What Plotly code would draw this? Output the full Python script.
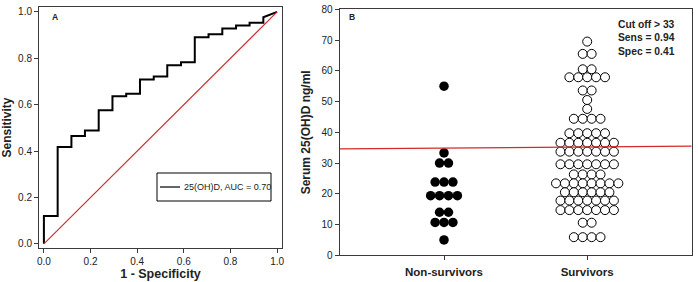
import plotly.graph_objects as go

# ---------------- data ----------------
# Panel A: ROC curve vertices (1 - specificity, sensitivity)
roc_fpr = [0.000, 0.000, 0.059, 0.059, 0.118, 0.118, 0.176, 0.176, 0.235, 0.235,
           0.294, 0.294, 0.353, 0.353, 0.412, 0.412, 0.471, 0.471, 0.529, 0.529,
           0.588, 0.588, 0.647, 0.647, 0.706, 0.706, 0.765, 0.765, 0.824, 0.824,
           0.882, 0.882, 0.941, 0.941, 1.000]
roc_tpr = [0.000, 0.120, 0.120, 0.417, 0.417, 0.465, 0.465, 0.489, 0.489, 0.576,
           0.576, 0.636, 0.636, 0.647, 0.647, 0.708, 0.708, 0.721, 0.721, 0.770,
           0.770, 0.783, 0.783, 0.891, 0.891, 0.904, 0.904, 0.928, 0.928, 0.941,
           0.941, 0.953, 0.953, 0.977, 1.000]
ref_x = [0.0, 1.0]
ref_y = [0.0, 1.0]
roc_label = "25(OH)D, AUC = 0.70"
roc_ticks = [0.0, 0.2, 0.4, 0.6, 0.8, 1.0]

# Panel B: serum 25(OH)D ng/ml
categories = ["Non-survivors", "Survivors"]
non_survivors = [55.0, 33.3, 30.0, 30.0, 23.8, 23.8, 23.8, 19.4, 19.4, 19.4, 19.4,
                 14.0, 14.0, 10.7, 10.7, 10.7, 5.0]
survivors = [69.5,
             65.5, 65.5,
             60.5, 60.5,
             57.9, 57.9, 57.9, 57.9, 57.9,
             53.6, 53.6,
             50.5,
             47.6,
             44.4, 44.4, 44.4, 44.4,
             39.7, 39.7, 39.7, 39.7, 39.7,
             36.6, 36.6, 36.6, 36.6, 36.6, 36.6, 36.6,
             33.7, 33.7, 33.7, 33.7, 33.7, 33.7, 33.7,
             29.6, 29.6, 29.6, 29.6, 29.6, 29.6, 29.6,
             26.3, 26.3, 26.3, 26.3,
             23.4, 23.4, 23.4, 23.4, 23.4, 23.4, 23.4, 23.4,
             20.5, 20.5, 20.5, 20.5, 20.5, 20.5,
             17.8, 17.8, 17.8, 17.8, 17.8, 17.8, 17.8,
             14.7, 14.7, 14.7, 14.7, 14.7, 14.7, 14.7,
             10.6, 10.6,
             5.9, 5.9, 5.9, 5.9]
cutoff_x = [0.27, 2.73]
cutoff_y = [34.6, 35.5]
stats_text = ["Cut off > 33", "Sens = 0.94", "Spec = 0.41"]
b_ticks = [0, 10, 20, 30, 40, 50, 60, 70, 80]

# ---------------- helpers ----------------
W, H = 698, 282
SPACING = 0.0622  # horizontal spacing between stacked dots (data units)


def swarm(values, center):
    """Spread equal values side by side around the category position."""
    groups = {}
    for v in values:
        groups[v] = groups.get(v, 0) + 1
    xs, ys = [], []
    for v, n in groups.items():
        for i in range(n):
            xs.append(center + (i - (n - 1) / 2) * SPACING)
            ys.append(v)
    return xs, ys


def px_x(p):
    return p / W


def px_y(p):
    return (H - p) / H


FONT = "Liberation Sans, Arial, sans-serif"
AXCOL = "#3a3a3a"
TXT = "#222222"

fig = go.Figure()

# Panel A
fig.add_trace(go.Scatter(x=roc_fpr, y=roc_tpr, mode="lines",
                         line=dict(color="black", width=2),
                         xaxis="x", yaxis="y", showlegend=False, name=roc_label))
fig.add_trace(go.Scatter(x=ref_x, y=ref_y, mode="lines",
                         line=dict(color="#d42a2a", width=1.2),
                         xaxis="x", yaxis="y", showlegend=False))

# Panel B
nx, ny = swarm(non_survivors, 1)
sx, sy = swarm(survivors, 2)
fig.add_trace(go.Scatter(x=nx, y=ny, mode="markers",
                         marker=dict(color="black", size=9.5, line=dict(width=0)),
                         xaxis="x2", yaxis="y2", showlegend=False, name=categories[0]))
fig.add_trace(go.Scatter(x=sx, y=sy, mode="markers",
                         marker=dict(color="white", size=9, line=dict(color="black", width=1)),
                         xaxis="x2", yaxis="y2", showlegend=False, name=categories[1]))
fig.add_trace(go.Scatter(x=cutoff_x, y=cutoff_y, mode="lines",
                         line=dict(color="#d42a2a", width=1.2),
                         xaxis="x2", yaxis="y2", showlegend=False))

common_axis = dict(showline=True, linecolor=AXCOL, linewidth=1, mirror=True,
                   ticks="outside", ticklen=4, tickcolor=AXCOL, showgrid=False,
                   zeroline=False, automargin=False,
                   tickfont=dict(family=FONT, size=10, color=TXT))

fig.update_layout(
    width=W, height=H,
    margin=dict(l=0, r=0, t=0, b=0, autoexpand=False),
    paper_bgcolor="white", plot_bgcolor="white",
    xaxis=dict(domain=[px_x(39), px_x(282)], range=[-0.021, 1.021],
               tickvals=roc_ticks, ticktext=[f"{t:.1f}" for t in roc_ticks],
               title=dict(text="<b>1 - Specificity</b>", standoff=2,
                          font=dict(family=FONT, size=12.5, color=TXT)),
               anchor="y", **common_axis),
    yaxis=dict(domain=[px_y(248), px_y(7)], range=[-0.018, 1.021],
               tickvals=roc_ticks, ticktext=[f"{t:.1f}" for t in roc_ticks],
               title=dict(text="<b>Sensitivity</b>", standoff=6,
                          font=dict(family=FONT, size=12, color=TXT)),
               anchor="x", **common_axis),
    xaxis2=dict(domain=[px_x(339.5), px_x(691.7)], range=[0.27, 2.73],
                tickvals=[1, 2], ticktext=[f"<b>{c}</b>" for c in categories],
                ticklabelstandoff=2,
                anchor="y2", **{**common_axis,
                                "tickfont": dict(family=FONT, size=11.5, color=TXT)}),
    yaxis2=dict(domain=[px_y(255.3), px_y(9.3)], range=[0, 80],
                tickvals=b_ticks,
                title=dict(text="<b>Serum 25(OH)D ng/ml</b>", standoff=8,
                           font=dict(family=FONT, size=12, color=TXT)),
                anchor="x2", **common_axis),
    showlegend=False,
)

# Legend box for panel A
fig.add_shape(type="rect", xref="paper", yref="paper",
              x0=px_x(157), x1=px_x(271), y0=px_y(201), y1=px_y(173),
              line=dict(color="black", width=1), fillcolor="white", layer="above")
fig.add_shape(type="line", xref="paper", yref="paper",
              x0=px_x(160), x1=px_x(180), y0=px_y(187), y1=px_y(187),
              line=dict(color="#333333", width=1.5))
fig.add_annotation(xref="paper", yref="paper", x=px_x(182), y=px_y(187),
                   xanchor="left", yanchor="middle", showarrow=False,
                   text=roc_label, font=dict(family=FONT, size=9, color=TXT))

# Panel letters
fig.add_annotation(xref="paper", yref="paper", x=px_x(50), y=px_y(17),
                   xanchor="left", yanchor="middle", showarrow=False,
                   text="<b>A</b>", font=dict(family=FONT, size=8.5, color=TXT))
fig.add_annotation(xref="paper", yref="paper", x=px_x(347), y=px_y(17),
                   xanchor="left", yanchor="middle", showarrow=False,
                   text="<b>B</b>", font=dict(family=FONT, size=8.5, color=TXT))

# Stats text
fig.add_annotation(xref="paper", yref="paper", x=px_x(616), y=px_y(38.5),
                   xanchor="left", yanchor="middle", align="left", showarrow=False,
                   text="<br>".join(f"<b>{s}</b>" for s in stats_text),
                   font=dict(family=FONT, size=10.3, color=TXT))

fig.write_html("out.html",
               config={"displayModeBar": False},
               post_script="document.body.style.margin='0';document.body.style.overflow='hidden';")
